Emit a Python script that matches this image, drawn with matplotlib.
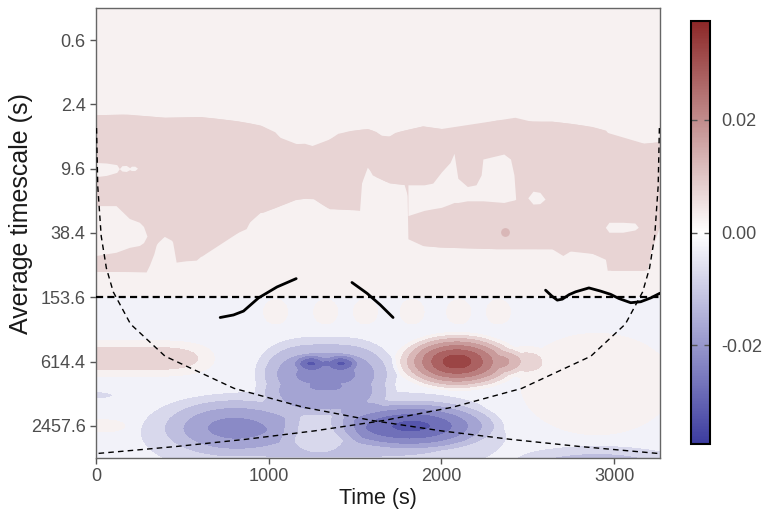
import numpy as np
import matplotlib
matplotlib.use("Agg")
import matplotlib.pyplot as plt
from matplotlib.colors import LinearSegmentedColormap, Normalize
from matplotlib.ticker import NullLocator

plt.rcParams['font.family'] = ['Liberation Sans', 'DejaVu Sans']
plt.rcParams['axes.unicode_minus'] = False

# axes
T_MAX = 3265
P_MIN, P_MAX = 0.3, 4915.2
P_SPLIT = 153.6          # thick dashed line
x_ticks = [0, 1000, 2000, 3000]
y_ticks = [0.6, 2.4, 9.6, 38.4, 153.6, 614.4, 2457.6]
y_tick_labels = ['0.6', '2.4', '9.6', '38.4', '153.6', '614.4', '2457.6']
cbar_ticks = [-0.02, 0.0, 0.02]
V_LIM = 0.0375

# short-scale part (above 153.6 s): darker pink band
band_time = [0, 180, 395, 610, 820, 950, 1035, 1070, 1100, 1150, 1207, 1260, 1303, 1340,
             1400, 1480, 1571, 1620, 1677, 1730, 1784, 1891, 1980, 2062, 2147, 2169,
             2240, 2318, 2425, 2532, 2640, 2746, 2874, 2950, 2981, 3002, 3100, 3173, 3265]
band_top = [3.0, 2.96, 3.17, 3.12, 3.42, 3.74, 4.33, 5.0, 5.91, 5.6, 5.55, 5.9, 6.08, 5.2,
            4.48, 4.2, 4.04, 4.3, 5.0, 4.4, 4.18, 3.82, 4.0, 4.18, 4.64, 3.74,
            3.6, 3.37, 3.17, 3.49, 3.45, 3.61, 3.87, 4.2, 4.8, 5.44, 5.5, 5.55, 5.36]
band_bottom_time = [0, 150, 290, 309, 335, 348, 367, 400, 430, 444, 464, 520, 580, 676,
                    773, 869, 890, 908, 966, 1063, 1159, 1250, 1352, 1450, 1526, 1546,
                    1580, 1600, 1650, 1700, 1750, 1800, 1806, 1891, 1998, 2318, 2639,
                    2703, 2767, 2788, 2831, 2917, 2949, 2960, 3173, 3190, 3205, 3215,
                    3240, 3265]
band_bottom = [88, 88, 89, 77, 60, 50, 43, 41, 42, 47, 72, 70, 69, 51,
               41, 35, 30, 25, 24.6, 21.3, 18.5, 17.9, 22.8, 23, 23.6, 8.4,
               9.6, 11, 12, 13.1, 13.3, 13.6, 43.5, 50.3, 52.1, 53.9, 53.9,
               62.4, 53.9, 46.9, 57, 62.4, 66, 85.8, 85.8, 85, 70, 45,
               36, 33]

# light gaps inside the band
gap_bay_time = [1806, 1900, 1950, 2000, 2050, 2073, 2095, 2150, 2200, 2230, 2240, 2361, 2400, 2420, 2430]
gap_bay_top = [13.6, 13.6, 13.1, 10.3, 8.4, 6.9, 11.8, 14.1, 13.6, 11.0, 7.8, 7.0, 7.8, 11.0, 18.6]
gap_bay_bottom = [26.4, 23.6, 22.8, 22.1, 20.6, 19.9, 19.9, 19.2, 19.2, 19.2, 19.2, 19.9, 19.2, 18.9, 18.6]
gap_left_time = [0, 116, 193, 251, 275, 295]
gap_left_top = [21.3, 21.3, 28.1, 30.5, 33.4, 41.1]
gap_left_bottom = [62.4, 58.2, 52.4, 50.3, 47.3, 41.1]
gap_streak_time = [0, 60, 120, 135, 150, 175, 195, 205, 225, 240]
gap_streak_top = [8.4, 8.5, 8.8, 9.6, 9.0, 8.95, 9.4, 9.1, 9.1, 9.5]
gap_streak_bottom = [11.4, 11.1, 10.4, 9.6, 10.1, 10.2, 9.8, 10.0, 10.0, 9.5]
gap_small_time = [2500, 2530, 2570, 2600]
gap_small_top = [18, 15.6, 16, 18.5]
gap_small_bottom = [18, 20.6, 20.4, 18.5]
gap_right_time = [2949, 2970, 3050, 3120, 3140]
gap_right_top = [34, 30.5, 30.5, 31, 34]
gap_right_bottom = [34, 37.8, 37.8, 36, 34]
spot_time, spot_period = 2367, 37.6

# long-scale part (below 153.6 s): blobs
# centre time, centre period, peak value, half extent in time, half extent in octaves, time exponent
blob_time = [2090, 2480, 1245, 1420, 1330, 769, 1850, 1320, 1290, 2900,
             0, 0, 40, 2900, 1040, 1330, 1560, 1830, 2100, 2330]
blob_period = [614.4, 614.4, 629, 629, 810.6, 2457.6, 2407, 2823, 2823, 6485,
               575, 1272, 2457.6, 998, 210, 210, 210, 210, 210, 210]
blob_amp = [0.036, 0.009, -0.012, -0.012, -0.020, -0.0096, -0.019, -0.012, 0.0075, -0.014,
            0.0125, -0.007, 0.005, 0.005, 0.005, 0.005, 0.005, 0.005, 0.005, 0.005]
blob_time_extent = [380, 160, 110, 110, 440, 430, 520, 1150, 260, 600,
                    720, 130, 200, 700, 110, 110, 110, 110, 110, 110]
blob_octave_extent = [0.95, 0.5, 0.3, 0.3, 1.3, 1.0, 0.85, 1.5, 0.7, 1.0,
                      0.65, 0.15, 0.3, 2.5, 0.6, 0.6, 0.6, 0.6, 0.6, 0.6]
blob_time_power = [2, 2, 2, 2, 3, 2, 2, 4, 2, 2, 6, 2, 2, 2, 2, 2, 2, 2, 2, 2]

# cone of influence
coi_time = [3, 10, 30, 60, 100, 200, 400, 800, 1200, 1600, 2000, 2400, 2800, 3265]
coi_period = [4, 14, 41, 82, 137, 274, 548, 1096, 1644, 2192, 2740, 3288, 3836, 4473]
coi2_time = [3262, 3255, 3235, 3205, 3165, 3065, 2865, 2465, 2065, 1665, 1265, 865, 465, 0]
coi2_period = [4, 14, 41, 82, 137, 274, 548, 1096, 1644, 2192, 2740, 3288, 3836, 4473]

# ridge lines
ridge1_time = [719, 796, 854, 941, 1048, 1159]
ridge1_period = [237.7, 225, 207, 155.8, 123, 102.8]
ridge2_time = [1482, 1569, 1646, 1720]
ridge2_period = [111.7, 141, 181, 237.7]
ridge3_time = [2603, 2640, 2671, 2700, 2740, 2777, 2854, 2922, 2980, 3028, 3096, 3154, 3212, 3265]
ridge3_period = [131.9, 150, 163.4, 160, 145, 136.6, 125.6, 134.6, 144.3, 157.9, 172.8, 169.2, 155.8, 141]

# field
t = np.linspace(0, T_MAX, 700)
octave = np.linspace(np.log2(P_MIN / 0.6), np.log2(P_MAX / 0.6), 701)
TT, OO = np.meshgrid(t, octave)
PP = 0.6 * 2 ** OO
Z = np.full(TT.shape, -0.0025)
for tc, pc, a, te, oe, pw in zip(blob_time, blob_period, blob_amp, blob_time_extent,
                                 blob_octave_extent, blob_time_power):
    oc = np.log2(pc / 0.6)
    r = np.sqrt(np.abs((TT - tc) / te) ** pw + ((OO - oc) / oe) ** 2)
    Z += a * np.clip(1 - r ** 1.5, 0, None)
Z[PP < P_SPLIT] = 0.0025

cmap = LinearSegmentedColormap.from_list('wt', ['#3c3ca0', '#ffffff', '#8c2828'])
norm = Normalize(-V_LIM, V_LIM)
levels = np.arange(-0.04, 0.0401, 0.005)

fig = plt.figure(figsize=(7.62, 5.12), dpi=100)
ax = fig.add_axes([0.126, 0.1055, 0.74, 0.879])
ax.contourf(TT, PP, Z, levels=levels, cmap=cmap, norm=norm, zorder=1)

c1 = cmap(norm(0.0025))
c2 = cmap(norm(0.0075))
c3 = cmap(norm(0.0125))
ax.fill_between(band_time, band_top, np.interp(band_time, band_bottom_time, band_bottom),
                color=c2, lw=0, zorder=2)
ax.fill_between(band_bottom_time, np.interp(band_bottom_time, band_time, band_top), band_bottom,
                color=c2, lw=0, zorder=2)
for gt, gtop, gbot in [(gap_bay_time, gap_bay_top, gap_bay_bottom),
                       (gap_left_time, gap_left_top, gap_left_bottom),
                       (gap_streak_time, gap_streak_top, gap_streak_bottom),
                       (gap_small_time, gap_small_top, gap_small_bottom),
                       (gap_right_time, gap_right_top, gap_right_bottom)]:
    ax.fill_between(gt, gtop, gbot, color=c1, lw=0, zorder=2.1)
ax.scatter([spot_time], [spot_period], s=40, color=c3, lw=0, zorder=2.2)

ax.plot(coi_time, coi_period, color='black', lw=1, ls=(0, (4, 3)), zorder=3)
ax.plot(coi2_time, coi2_period, color='black', lw=1, ls=(0, (4, 3)), zorder=3)
ax.axhline(P_SPLIT, color='black', lw=1.6, ls=(0, (3.2, 1.9)), zorder=3)
for rt, rp in [(ridge1_time, ridge1_period), (ridge2_time, ridge2_period), (ridge3_time, ridge3_period)]:
    ax.plot(rt, rp, color='black', lw=2, solid_capstyle='round', zorder=4)

ax.set_yscale('log', base=2)
ax.set_ylim(P_MAX, P_MIN)
ax.set_xlim(0, T_MAX)
ax.set_yticks(y_ticks)
ax.set_yticklabels(y_tick_labels)
ax.yaxis.set_minor_locator(NullLocator())
ax.set_xticks(x_ticks)
ax.tick_params(colors='#555555', labelcolor='#4d4d4d', labelsize=13, length=4, width=1)
for s in ax.spines.values():
    s.set_color('#666666')
    s.set_linewidth(1)
ax.set_xlabel('Time (s)', fontsize=15.5, color='#1a1a1a', labelpad=2)
ax.set_ylabel('Average timescale (s)', fontsize=18, color='#1a1a1a')
ax.yaxis.set_label_coords(-0.112, 0.543)

cax = fig.add_axes([0.9068, 0.1328, 0.0249, 0.826])
sm = plt.cm.ScalarMappable(norm=norm, cmap=cmap)
cb = fig.colorbar(sm, cax=cax, ticks=cbar_ticks)
cb.ax.set_yticklabels(['%.2f' % v for v in cbar_ticks])
cb.outline.set_edgecolor('black')
cb.outline.set_linewidth(1.5)
cb.ax.tick_params(direction='in', left=True, right=True, length=4, width=1,
                  colors='#555555', labelcolor='#4d4d4d', labelsize=13, pad=8)

fig.savefig('out.png', dpi=100)
